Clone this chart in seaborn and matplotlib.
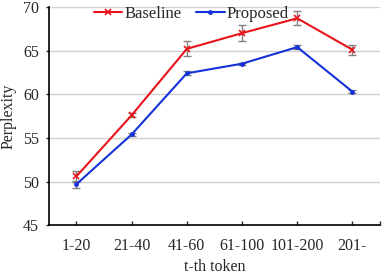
import numpy as np
import pandas as pd
import matplotlib
matplotlib.use('Agg')
import matplotlib.pyplot as plt
import seaborn as sns

# ── Data ──────────────────────────────────────────────────────────────────────
categories = ['1-20', '21-40', '41-60', '61-100', '101-200', '201-']
baseline = [50.6, 57.6, 65.2, 67.0, 68.7, 65.1]
baseline_err = [0.6, 0.2, 0.85, 0.95, 0.8, 0.55]
proposed = [49.7, 55.4, 62.4, 63.5, 65.4, 60.3]
proposed_err = [0.4, 0.2, 0.25, 0.1, 0.2, 0.2]

sns.set_style('white')
plt.rcParams['font.family'] = ['Liberation Serif', 'DejaVu Serif']

x = np.arange(len(categories))
FS = 11.5

fig = plt.figure(figsize=(3.85, 2.78), dpi=100)
ax = fig.add_axes([0.127, 0.19, 0.86, 0.785])

ax.errorbar(x, baseline, yerr=baseline_err, fmt='none', ecolor='#808080',
            elinewidth=1, capsize=3, capthick=1, zorder=2)
ax.errorbar(x, proposed, yerr=proposed_err, fmt='none', ecolor='#808080',
            elinewidth=1, capsize=3, capthick=1, zorder=2)

sns.lineplot(x=x, y=baseline, color='#e8141c', marker='x', markersize=5,
             markeredgewidth=1.2, markeredgecolor='#e8141c', linewidth=1.5,
             label='Baseline', ax=ax, zorder=3)
sns.lineplot(x=x, y=proposed, color='#1432d8', marker='o', markersize=3.5,
             markeredgewidth=0, linewidth=1.5, label='Proposed', ax=ax, zorder=3)

ax.set_xlim(-0.5, 5.5)
ax.set_ylim(45, 70)
ax.set_yticks([45, 50, 55, 60, 65, 70])
ax.set_xticks(x)
ax.set_xticklabels(categories)
ax.set_xticks([5.5], minor=True)
ax.tick_params(axis='x', which='both', direction='in', length=3, width=1,
               labelsize=FS, pad=9, bottom=True)
ax.tick_params(axis='y', direction='out', length=2, width=1, labelsize=FS,
               pad=5, left=True)
ax.grid(axis='y', color='#d0d0d0', linewidth=1)
ax.set_axisbelow(True)

for s in ['top', 'right']:
    ax.spines[s].set_visible(False)
for s in ['left', 'bottom']:
    ax.spines[s].set_color('black')
    ax.spines[s].set_linewidth(1.2)

ax.set_xlabel('t-th token', fontsize=FS, labelpad=4)
ax.set_ylabel('Perplexity', fontsize=FS, labelpad=5)

ax.legend(loc='upper center', bbox_to_anchor=(0.43, 1.035), ncol=2,
          frameon=False, fontsize=12, handlelength=1.7, handletextpad=0.1,
          columnspacing=0.9, borderaxespad=0)

fig.savefig('out.png', dpi=100)
